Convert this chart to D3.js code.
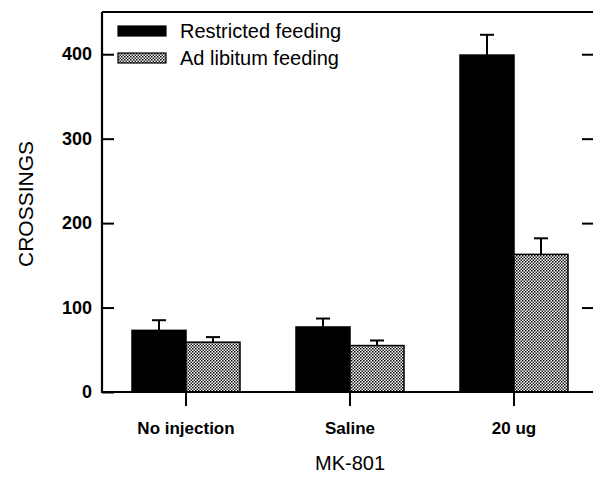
<!DOCTYPE html>
<html>
<head>
<meta charset="utf-8">
<script src="https://cdn.jsdelivr.net/npm/d3@7"></script>
<style>
  body { margin: 0; background: #fff; }
  svg { display: block; font-family: "Liberation Sans", Arial, sans-serif; }
</style>
</head>
<body>
<div id="showBox"></div>
<script>
// data
const categories = ["No injection", "Saline", "20 ug"]
const seriesNames = ["Restricted feeding", "Ad libitum feeding"]
const restricted = [73, 77, 399]
const restrictedErr = [12, 10, 24]
const adLibitum = [59, 55, 163]
const adLibitumErr = [6, 6, 19]
const yTicks = [0, 100, 200, 300, 400]

const width = 593, height = 484

const svg = d3.select("#showBox").append("svg")
    .attr("width", width)
    .attr("height", height)

// dotted fill for the ad libitum bars
const pat = svg.append("defs").append("pattern")
    .attr("id", "dots")
    .attr("width", 3).attr("height", 3)
    .attr("patternUnits", "userSpaceOnUse")
pat.append("rect").attr("width", 3).attr("height", 3).attr("fill", "#fff")
pat.append("rect").attr("x", 0).attr("y", 0).attr("width", 1.5).attr("height", 1.5).attr("fill", "#000")
pat.append("rect").attr("x", 1.5).attr("y", 1.5).attr("width", 1.5).attr("height", 1.5).attr("fill", "#222")

const mLeft = 102, mTop = 12, mRight = 596, mBottom = 392

const x = d3.scaleBand().domain(categories).range([104, 596]).padding(0)
const xs = d3.scaleBand().domain(seriesNames).range([-54, 54])
const y = d3.scaleLinear().domain([0, 450]).range([mBottom, mTop])

const rows = categories.map((c, i) => [
    {cat: c, s: seriesNames[0], v: restricted[i], e: restrictedErr[i]},
    {cat: c, s: seriesNames[1], v: adLibitum[i], e: adLibitumErr[i]}
]).flat()

const fillOf = s => s === seriesNames[0] ? "#000" : "url(#dots)"

// error bars (upward only)
const eb = svg.append("g").attr("stroke", "#000").attr("stroke-width", 2)
rows.forEach(d => {
    const cx = x(d.cat) + x.bandwidth() / 2 + xs(d.s) + xs.bandwidth() / 2
    eb.append("line").attr("x1", cx).attr("x2", cx).attr("y1", y(d.v)).attr("y2", y(d.v + d.e))
    eb.append("line").attr("x1", cx - 7).attr("x2", cx + 7).attr("y1", y(d.v + d.e)).attr("y2", y(d.v + d.e))
})

svg.append("g").selectAll("rect")
    .data(rows)
    .join("rect")
    .attr("x", d => x(d.cat) + x.bandwidth() / 2 + xs(d.s))
    .attr("y", d => y(d.v))
    .attr("width", xs.bandwidth())
    .attr("height", d => mBottom - y(d.v))
    .attr("fill", d => fillOf(d.s))
    .attr("stroke", "#000")
    .attr("stroke-width", 1.5)

// frame: left, top, bottom axes plus right ticks
const yAxis = d3.axisLeft(y).tickValues(yTicks).tickSize(-12).tickPadding(10).tickFormat(d3.format("d"))
svg.append("g")
    .attr("transform", `translate(${mLeft},0)`)
    .call(yAxis)
    .call(g => g.select(".domain").remove())
    .call(g => g.selectAll("line").attr("stroke", "#000").attr("stroke-width", 2))
    .call(g => g.selectAll("text").attr("font-size", 18).attr("font-weight", "bold").attr("fill", "#000"))

const yRight = d3.axisRight(y).tickValues(yTicks.slice(1)).tickSize(-12).tickFormat("")
svg.append("g")
    .attr("transform", `translate(${mRight - 2},0)`)
    .call(yRight)
    .call(g => g.select(".domain").remove())
    .call(g => g.selectAll("line").attr("stroke", "#000").attr("stroke-width", 2))

const xAxis = d3.axisBottom(x).tickSize(14).tickPadding(16)
svg.append("g")
    .attr("transform", `translate(0,${mBottom})`)
    .call(xAxis)
    .call(g => g.select(".domain").remove())
    .call(g => g.selectAll("line").attr("stroke", "#000").attr("stroke-width", 2))
    .call(g => g.selectAll("text").attr("font-size", 17).attr("font-weight", "bold").attr("fill", "#000"))

svg.append("path")
    .attr("d", `M${mLeft},${mTop}H${mRight + 5}M${mLeft},${mTop}V${mBottom}H${mRight + 5}`)
    .attr("fill", "none")
    .attr("stroke", "#000")
    .attr("stroke-width", 2.2)

// legend
const lg = svg.append("g").attr("transform", "translate(118,26)")
seriesNames.forEach((s, i) => {
    lg.append("rect")
        .attr("x", 0).attr("y", i * 27)
        .attr("width", 48).attr("height", 10)
        .attr("fill", fillOf(s))
        .attr("stroke", "#000").attr("stroke-width", 1.2)
    lg.append("text")
        .attr("x", 62).attr("y", i * 27 + 12)
        .attr("font-size", 20)
        .text(s)
})

// axis titles
svg.append("text")
    .attr("transform", "translate(33,204) rotate(-90)")
    .attr("text-anchor", "middle")
    .attr("font-size", 21)
    .text("CROSSINGS")

svg.append("text")
    .attr("x", 350).attr("y", 470)
    .attr("text-anchor", "middle")
    .attr("font-size", 20)
    .text("MK-801")
</script>
</body>
</html>
